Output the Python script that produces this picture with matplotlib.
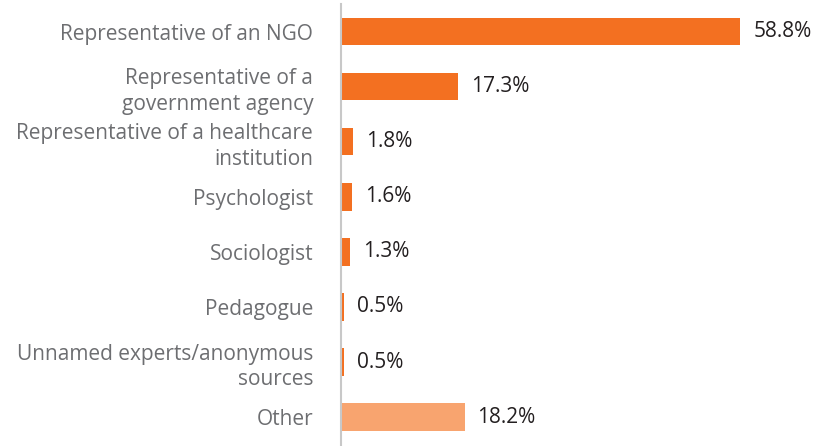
import matplotlib
matplotlib.use("Agg")
from matplotlib import pyplot as plt

categories = [
    "Representative of an NGO",
    "Representative of a\ngovernment agency",
    "Representative of a healthcare\ninstitution",
    "Psychologist",
    "Sociologist",
    "Pedagogue",
    "Unnamed experts/anonymous\nsources",
    "Other",
]
values = [58.8, 17.3, 1.8, 1.6, 1.3, 0.5, 0.5, 18.2]
labels = ["58.8%", "17.3%", "1.8%", "1.6%", "1.3%", "0.5%", "0.5%", "18.2%"]
colors = ["#F37021"] * 7 + ["#F8A46F"]

plt.rcParams["font.family"] = ["Open Sans", "DejaVu Sans"]

fig = plt.figure(figsize=(8.15, 4.46), dpi=100)
ax = fig.add_axes([0.4184, 0.003, 0.5816, 0.988])

y = list(range(len(categories)))
ax.barh(y, values, height=0.5, color=colors)
ax.set_ylim(len(categories) - 0.5, -0.5)
ax.set_xlim(0, 69.8)

for yi, v, lab in zip(y, values, labels):
    ax.text(v + 1.9, yi, lab, va="center", ha="left", fontsize=15, color="#231F20")

ax.set_yticks(y)
ax.set_yticklabels(categories, fontsize=15, color="#6D6E71", linespacing=1.3)
ax.tick_params(axis="y", length=0, pad=20)
ax.set_xticks([])
for side in ["top", "right", "bottom"]:
    ax.spines[side].set_visible(False)
ax.spines["left"].set_color("#C8C8C8")
ax.spines["left"].set_linewidth(1.5)

fig.savefig("out.png", dpi=100)
